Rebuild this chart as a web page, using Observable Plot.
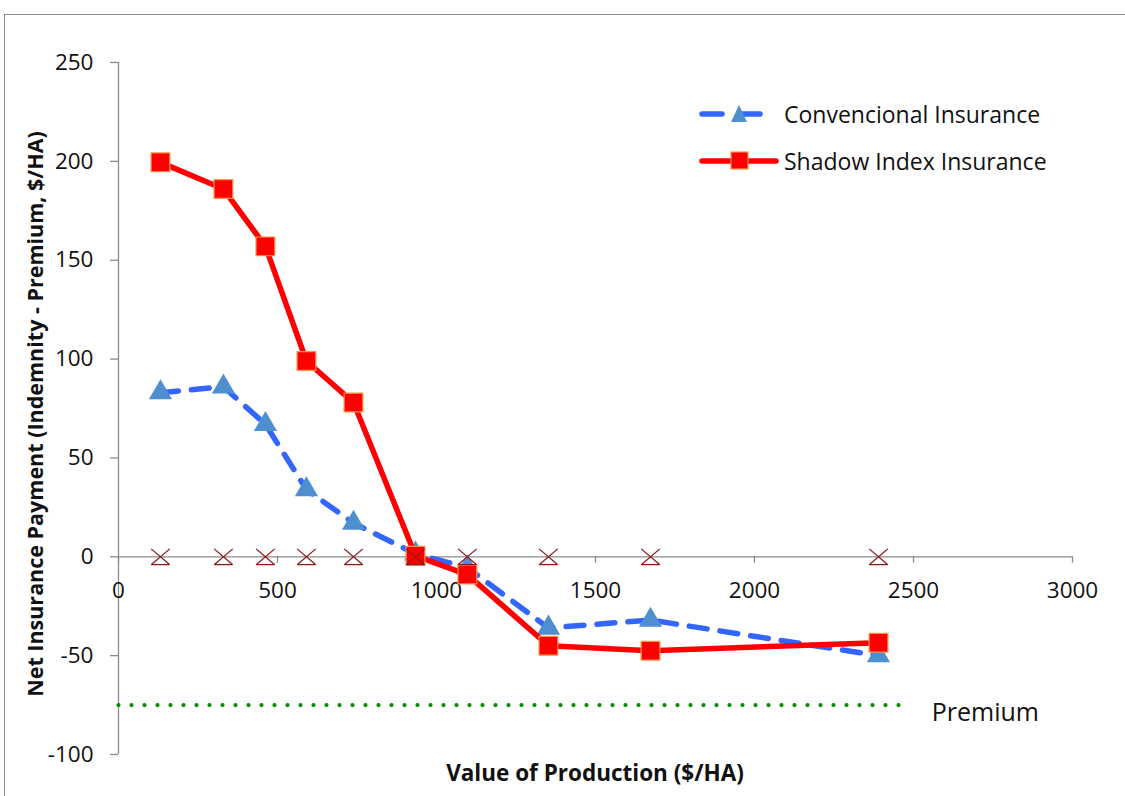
<!DOCTYPE html>
<html>
<head>
<meta charset="utf-8">
<script src="https://cdn.jsdelivr.net/npm/d3@7"></script>
<script src="https://cdn.jsdelivr.net/npm/@observablehq/plot@0.6"></script>
<style>
  html, body { margin: 0; padding: 0; background: #fff; }
  #wrap { position: relative; width: 1125px; height: 796px; overflow: hidden; font-family: "Open Sans", sans-serif; color: #111; }
  #frame { position: absolute; left: 4px; top: 14px; width: 1200px; height: 900px; border: 1px solid #8c8c8c; box-sizing: border-box; }
  #chart { position: absolute; left: 0; top: 0; }
  #legend { position: absolute; left: 698px; top: 99px; font-size: 23px; color: #111; }
  #legend .row { display: flex; align-items: center; height: 30px; margin-bottom: 17px; }
  #legend svg { margin-right: 4px; }
</style>
</head>
<body>
<div id="wrap">
  <div id="frame"></div>
  <div id="chart"></div>
  <div id="legend"></div>
</div>
<script>
// ---- data ----
const production = [132, 330, 462, 591, 739, 934, 1097, 1352, 1673, 2390];
const conventional = [83, 86, 67, 34, 17, 1.5, -5.5, -36, -32, -50];
const shadowIndex = [199.5, 186, 157, 99, 78, 0.5, -9, -45, -47.5, -43.5];
const zeroMarks = [0, 0, 0, 0, 0, 0, 0, 0, 0, 0];
const premiumValue = -75;
const premiumRange = [0, 2475];
const premiumLabel = [{x: 2726, y: -79, text: "Premium"}];
const xTicks = [0, 500, 1000, 1500, 2000, 2500, 3000];
const yTicks = [-100, -50, 0, 50, 100, 150, 200, 250];
const seriesNames = ["Convencional Insurance", "Shadow Index Insurance"];
const xTitleText = "Value of Production ($/HA)";
const yTitleText = "Net Insurance Payment (Indemnity - Premium, $/HA)";

const blueLine = "#3366ff";
const blueMarker = "#4f8fd0";
const redLine = "#ff0000";
const redMarkerStroke = "#f79646";
const crossColor = "#8b1a1a";
const axisColor = "#8c8c8c";
const greenDots = "#0a8a0a";

const conv = production.map((x, i) => ({x, y: conventional[i]}));
const shad = production.map((x, i) => ({x, y: shadowIndex[i]}));
const zero = production.map((x, i) => ({x, y: zeroMarks[i]}));
const prem = premiumRange.map(x => ({x, y: premiumValue}));

// custom X symbol with a base line (as in the Excel marker)
const crossSymbol = {
  draw(context, size) {
    const r = Math.sqrt(size) / 2;
    const h = r * 0.85;
    context.moveTo(-r, -h); context.lineTo(r, h);
    context.moveTo(r, -h); context.lineTo(-r, h);
    context.moveTo(-r, h); context.lineTo(r, h);
  }
};

const chart = Plot.plot({
  width: 1125,
  height: 796,
  marginLeft: 118,
  marginRight: 53,
  marginTop: 62,
  marginBottom: 42,
  style: {fontFamily: "'Open Sans', sans-serif", background: "transparent", color: "#111"},
  x: {domain: [0, 3000], axis: null},
  y: {domain: [-100, 250], axis: null},
  marks: [
    // y axis
    Plot.ruleX([0], {stroke: axisColor, strokeWidth: 1.3}),
    Plot.axisY({ticks: yTicks, tickFormat: d => String(d), tickSize: 8, tickPadding: 17, fontSize: 22.5,
      stroke: axisColor, strokeWidth: 1.3, label: null}),
    // x axis at y = 0
    Plot.ruleY([0], {stroke: axisColor, strokeWidth: 1.3}),
    Plot.ruleX(xTicks, {x: d => d, y1: 0, y2: -3.2, stroke: axisColor, strokeWidth: 1.3}),
    Plot.text(xTicks, {x: d => d, y: 0, dy: 34, text: d => String(d), fontSize: 22.5, fill: "#111"}),
    // premium dotted line + label
    Plot.line(prem, {x: "x", y: "y", stroke: greenDots, strokeWidth: 4.2, strokeDasharray: "0 13", strokeLinecap: "round"}),
    Plot.text(premiumLabel, {x: "x", y: "y", text: "text", fontSize: 25, fill: "#111"}),
    // conventional
    Plot.line(conv, {x: "x", y: "y", stroke: blueLine, strokeWidth: 5.5, strokeDasharray: "18 13", strokeLinecap: "round"}),
    Plot.dot(conv, {x: "x", y: "y", symbol: "triangle", r: 8.6, fill: blueMarker, stroke: "none"}),
    // shadow index
    Plot.line(shad, {x: "x", y: "y", stroke: redLine, strokeWidth: 5.5}),
    Plot.dot(shad, {x: "x", y: "y", symbol: "square", r: 10.6, fill: redLine, stroke: redMarkerStroke, strokeWidth: 1.2}),
    // zero markers
    Plot.dot(zero, {x: "x", y: "y", symbol: crossSymbol, r: 10.5, fill: "none", stroke: crossColor, strokeWidth: 1.3})
  ]
});
document.getElementById("chart").appendChild(chart);

const wrap = document.getElementById("wrap");
// x axis title
const xTitle = document.createElement("div");
xTitle.textContent = xTitleText;
Object.assign(xTitle.style, {position: "absolute", left: "118px", width: "954px", top: "757px", textAlign: "center",
  fontWeight: "bold", fontSize: "22.5px"});
wrap.appendChild(xTitle);
// y axis title (rotated)
const yTitle = document.createElement("div");
yTitle.textContent = yTitleText;
Object.assign(yTitle.style, {position: "absolute", left: "34px", top: "414px", width: "0px", display: "flex",
  justifyContent: "center", fontWeight: "bold", fontSize: "21.5px", whiteSpace: "nowrap",
  transform: "translate(0, -50%) rotate(-90deg)"});
wrap.appendChild(yTitle);

// legend
const legend = document.getElementById("legend");
function legendRow(name, kind) {
  const row = document.createElement("div");
  row.className = "row";
  const ns = "http://www.w3.org/2000/svg";
  const svg = document.createElementNS(ns, "svg");
  svg.setAttribute("width", 82); svg.setAttribute("height", 30);
  const line = document.createElementNS(ns, "line");
  line.setAttribute("x1", 4); line.setAttribute("x2", 78);
  line.setAttribute("y1", 15); line.setAttribute("y2", 15);
  line.setAttribute("stroke-width", 5.5);
  line.setAttribute("stroke-linecap", "round");
  if (kind === "conv") {
    line.setAttribute("stroke", blueLine);
    line.setAttribute("stroke-dasharray", "20 18");
    svg.appendChild(line);
    const tri = document.createElementNS(ns, "path");
    tri.setAttribute("d", "M41,6 L49,23 L33,23 Z");
    tri.setAttribute("fill", blueMarker);
    svg.appendChild(tri);
  } else {
    line.setAttribute("stroke", redLine);
    svg.appendChild(line);
    const sq = document.createElementNS(ns, "rect");
    sq.setAttribute("x", 33); sq.setAttribute("y", 6); sq.setAttribute("width", 17); sq.setAttribute("height", 17);
    sq.setAttribute("fill", redLine); sq.setAttribute("stroke", redMarkerStroke); sq.setAttribute("stroke-width", 1.2);
    svg.appendChild(sq);
  }
  row.appendChild(svg);
  const label = document.createElement("span");
  label.textContent = name;
  row.appendChild(label);
  legend.appendChild(row);
}
legendRow(seriesNames[0], "conv");
legendRow(seriesNames[1], "shad");
</script>
</body>
</html>
